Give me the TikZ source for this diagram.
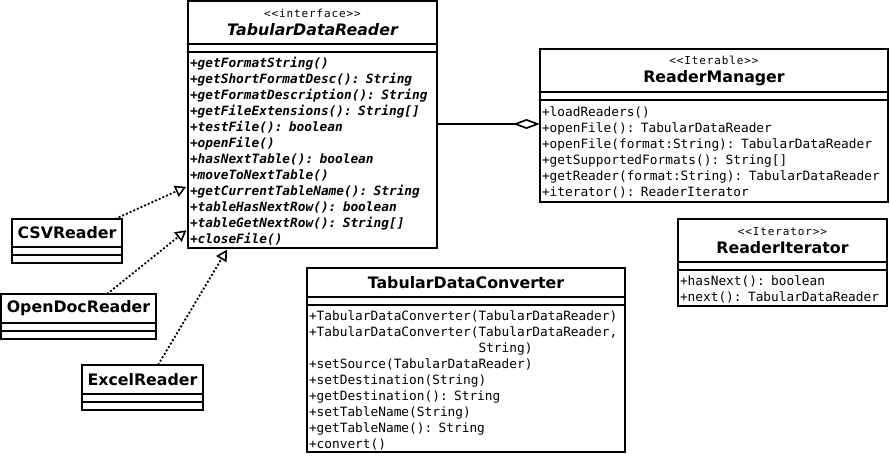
\documentclass[tikz,border=0pt]{standalone}
\usepackage{fontspec}
\setmainfont{DejaVu Sans}
\setmonofont{DejaVu Sans Mono}
\newfontfamily\stereofont[LetterSpace=8]{DejaVu Sans Mono}
\usepackage{tikz}
\usetikzlibrary{positioning}
\usetikzlibrary{arrows.meta}
\newcommand{\namefont}{\fontsize{15.8}{18}\selectfont\bfseries}
\newcommand{\opsfont}{\fontsize{12.8}{16}\selectfont\ttfamily}
\newcommand{\stereo}[1]{{\fontsize{11}{18}\selectfont\mdseries\upshape\stereofont <{}<#1>{}>}}

\begin{document}
\begin{tikzpicture}[x=1pt,y=-1pt,
		part/.style={rectangle,draw=black,line width=1.7pt,outer sep=0pt,inner sep=0pt},
		classname/.style={part,minimum height=29pt,align=center,font=\namefont},
		classattrs/.style={part,minimum height=8pt},
		classops/.style={part,inner xsep=2pt,align=left,font=\opsfont,execute at begin node={\rule{0pt}{12.7pt}}},
		realize/.style={-{Triangle[open,length=11pt,width=12pt,line width=1.6pt]},line width=1.8pt,dash pattern=on 2pt off 2pt,shorten >=2pt},
		aggr/.style={-{Diamond[open,length=27pt,width=10pt]},line width=1.7pt}]
		\useasboundingbox (0,0) rectangle (890,455);

		\node[classname,minimum height=43pt,minimum width=249pt,anchor=north west] (ifname) at (188,1)
			{\stereo{interface}\\\itshape TabularDataReader};
		\node[classattrs,minimum width=249pt,below=0pt of ifname] (ifattrs) {};
		\node[classops,text width=245pt,minimum height=196pt,below=0pt of ifattrs,font=\opsfont\bfseries\itshape] (ifops)
			{+getFormatString()\\
			+getShortFormatDesc(): String\\
			+getFormatDescription(): String\\
			+getFileExtensions(): String[]\\
			+testFile(): boolean\\
			+openFile()\\
			+hasNextTable(): boolean\\
			+moveToNextTable()\\
			+getCurrentTableName(): String\\
			+tableHasNextRow(): boolean\\
			+tableGetNextRow(): String[]\\
			+closeFile()};

		\node[classname,minimum height=43pt,minimum width=348pt,anchor=north west] (rmname) at (540,49)
			{\stereo{Iterable}\\ReaderManager};
		\node[classattrs,minimum width=348pt,below=0pt of rmname] (rmattrs) {};
		\node[classops,text width=344pt,minimum height=102pt,below=0pt of rmattrs] (rmops)
			{+loadReaders()\\
			+openFile(): TabularDataReader\\
			+openFile(format:String): TabularDataReader\\
			+getSupportedFormats(): String[]\\
			+getReader(format:String): TabularDataReader\\
			+iterator(): ReaderIterator};

		\node[classname,minimum height=43pt,minimum width=209pt,anchor=north west] (riname) at (678,219)
			{\stereo{Iterator}\\ReaderIterator};
		\node[classattrs,minimum width=209pt,below=0pt of riname] (riattrs) {};
		\node[classops,text width=205pt,minimum height=36pt,below=0pt of riattrs] (riops)
			{+hasNext(): boolean\\
			+next(): TabularDataReader};

		\node[classname,minimum width=318pt,anchor=north west] (tcname) at (307,268) {TabularDataConverter};
		\node[classattrs,minimum width=318pt,below=0pt of tcname] (tcattrs) {};
		\node[classops,text width=314pt,minimum height=147pt,below=0pt of tcattrs] (tcops)
			{+TabularDataConverter(TabularDataReader)\\
			+TabularDataConverter(TabularDataReader,\\
			\leavevmode\hphantom{+TabularDataConverter(}String)\\
			+setSource(TabularDataReader)\\
			+setDestination(String)\\
			+getDestination(): String\\
			+setTableName(String)\\
			+getTableName(): String\\
			+convert()};

		\node[classname,minimum height=28pt,minimum width=110pt,anchor=north west] (csvname) at (12,219) {CSVReader};
		\node[classattrs,minimum width=110pt,below=0pt of csvname] (csvattrs) {};
		\node[classattrs,minimum width=110pt,below=0pt of csvattrs] (csvops) {};

		\node[classname,minimum width=155pt,anchor=north west] (odname) at (1,294) {OpenDocReader};
		\node[classattrs,minimum width=155pt,below=0pt of odname] (odattrs) {};
		\node[classattrs,minimum width=155pt,below=0pt of odattrs] (odops) {};

		\node[classname,minimum width=121pt,anchor=north west] (exname) at (82,365) {ExcelReader};
		\node[classattrs,minimum width=121pt,below=0pt of exname] (exattrs) {};
		\node[classattrs,minimum width=121pt,below=0pt of exattrs] (exops) {};

		\draw[realize] ([xshift=-7pt]csvname.north east) -- ([yshift=-36pt]ifops.west);
		\draw[realize] ([xshift=-49pt]odname.north east) -- ([yshift=-79pt]ifops.west);
		\draw[realize] ([xshift=-45pt]exname.north east) -- ([xshift=40pt]ifops.south west);
		\coordinate (aggrstart) at ([yshift=26pt]ifops.east);
		\draw[aggr] (aggrstart) -- (aggrstart -| rmops.west);
\end{tikzpicture}
\end{document}
